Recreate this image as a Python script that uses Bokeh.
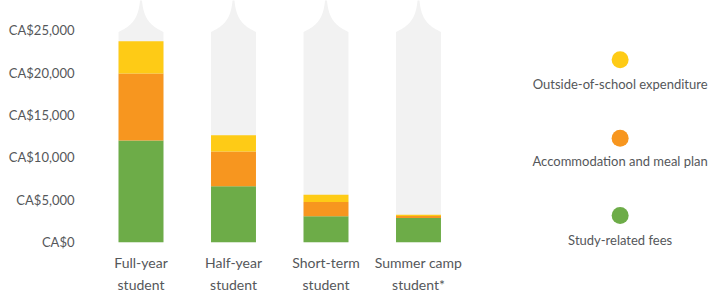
import numpy as np
from bokeh.plotting import figure
from bokeh.models import ColumnDataSource, FixedTicker
from bokeh.core.properties import value
from bokeh.embed import file_html
from bokeh.resources import INLINE

# ---- data ----
categories = ["Full-year\nstudent", "Half-year\nstudent", "Short-term\nstudent", "Summer camp\nstudent*"]
study_fees = [12000, 6600, 3050, 2850]
accommodation = [7900, 4100, 1700, 250]
outside_school = [3800, 1900, 850, 150]
series_names = ["Outside-of-school expenditure", "Accommodation and meal plan", "Study-related fees"]
y_ticks = [0, 5000, 10000, 15000, 20000, 25000]
y_tick_labels = ["CA$0", "CA$5,000", "CA$10,000", "CA$15,000", "CA$20,000", "CA$25,000"]

YELLOW = "#FECB16"
ORANGE = "#F7961F"
GREEN = "#6DAC48"
GREY_BG = "#F2F2F2"
TEXT = "#55575A"
FONT = "Lato"

n = len(categories)
xs = np.arange(n)
bar_w = 0.486
bg_top = 24800

p = figure(width=725, height=295, output_backend="svg", toolbar_location=None,
           x_range=(-0.6, 6.319), y_range=(-6285, 28500),
           min_border_left=85, min_border_right=0, min_border_top=0, min_border_bottom=0)
p.outline_line_color = None
p.grid.visible = False
p.background_fill_color = "white"
p.xaxis.visible = False

# background "pencil" columns
px_per_val = 8.48 / 1000.0
bx, by = [], []
for c in xs:
    hs = np.linspace(0, 40, 60)  # px above flat top
    half = (bar_w / 2) * np.exp(-hs / 10.0)
    yy = bg_top + hs / px_per_val
    left_x = list(c - half)
    right_x = list(c + half)[::-1]
    poly_x = [c - bar_w / 2] + left_x + right_x + [c + bar_w / 2]
    poly_y = [0] + list(yy) + list(yy)[::-1] + [0]
    bx.append(poly_x)
    by.append(poly_y)
p.patches(bx, by, fill_color=GREY_BG, line_color=None)

# stacked bars
src = ColumnDataSource(dict(x=xs, study=study_fees, acc=accommodation, out=outside_school))
p.vbar_stack(["study", "acc", "out"], x="x", width=bar_w, source=src,
             color=[GREEN, ORANGE, YELLOW], line_color=None)

# category labels under bars
p.text(xs, [-3650] * n, text=categories, text_align="center", text_baseline="middle",
       text_font=value(FONT), text_font_size="14px", text_color=TEXT, text_line_height=1.3)

# legend (dot above label)
leg_x = 5.18
leg_dot_y = [21510, 12260, 3150]
leg_txt_y = [18680, 9550, 280]
leg_colors = [YELLOW, ORANGE, GREEN]
p.scatter([leg_x] * 3, leg_dot_y, size=17, color=leg_colors, line_color=None)
p.text([leg_x] * 3, leg_txt_y, text=series_names, text_align="center", text_baseline="middle",
       text_font=value(FONT), text_font_size="13px", text_color=TEXT)

# y axis
p.yaxis.ticker = FixedTicker(ticks=y_ticks)
p.yaxis.major_label_overrides = {t: l for t, l in zip(y_ticks, y_tick_labels)}
p.yaxis.axis_line_color = None
p.yaxis.major_tick_line_color = None
p.yaxis.minor_tick_line_color = None
p.yaxis.major_label_text_font = FONT
p.yaxis.major_label_text_font_size = "13px"
p.yaxis.major_label_text_color = TEXT
p.yaxis.major_label_standoff = 5

open("out.html", "w").write(file_html(p, INLINE))
